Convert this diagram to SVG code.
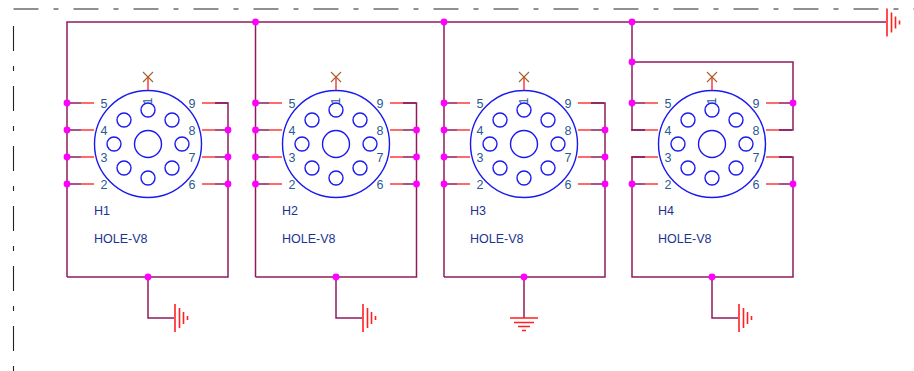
<svg xmlns="http://www.w3.org/2000/svg" xmlns:xlink="http://www.w3.org/1999/xlink" width="914" height="371" viewBox="0 0 914 371">
<style>
text{font-family:"Liberation Sans",Arial,sans-serif;font-size:12.500px;fill:#2a5a94}
.lab{fill:#1c3490;font-size:12.500px}
.w{fill:none;stroke:#8e1b5e;stroke-width:1.500}
.r{fill:none;stroke:#ff3b3b;stroke-width:1.500}
.b{fill:none;stroke:#1a1aee;stroke-width:1.400}
.g{fill:none;stroke:#ff2020;stroke-width:1.600}
.x{fill:none;stroke:#a5602a;stroke-width:1.100}
.d{fill:#ff00ff}
.frame{fill:none;stroke:#222;stroke-width:1.100;stroke-dasharray:25 15 5 15}
</style>
<defs>
<g id="pkg">
<circle class="b" cx="0" cy="0" r="53.5"/>
<circle class="b" cx="0" cy="0" r="13.5"/>
<circle class="b" cx="0" cy="-34" r="7"/>
<circle class="b" cx="24" cy="-24" r="7"/>
<circle class="b" cx="34" cy="0" r="7"/>
<circle class="b" cx="24" cy="24" r="7"/>
<circle class="b" cx="0" cy="34" r="7"/>
<circle class="b" cx="-24" cy="24" r="7"/>
<circle class="b" cx="-34" cy="0" r="7"/>
<circle class="b" cx="-24" cy="-24" r="7"/>
<path class="r" d="M0-54V-67"/>
<path class="x" d="M-5-72L5-62M5-72L-5-62"/>
<path class="r" d="M-67-41H-54M-67-14H-54M-67 13H-54M-67 40H-54M54-41H67M54-14H67M54 13H67M54 40H67"/>
<path class="w" d="M-81-41H-67M-81-14H-67M-81 13H-67M-81 40H-67M67-41H80M67-14H80M67 13H80M67 40H80"/>
<text x="-44" y="-36" text-anchor="middle">5</text>
<text x="-44" y="-9" text-anchor="middle">4</text>
<text x="-44" y="18" text-anchor="middle">3</text>
<text x="-44" y="45" text-anchor="middle">2</text>
<text x="44" y="-36" text-anchor="middle">9</text>
<text x="44" y="-9" text-anchor="middle">8</text>
<text x="44" y="18" text-anchor="middle">7</text>
<text x="44" y="45" text-anchor="middle">6</text>
<text transform="translate(4 -43) rotate(-90)" text-anchor="middle">1</text>
</g>
<g id="gnd"><path class="g" d="M0-14V14M4.500-10V10M8.500-6V6M12.500-2V2"/></g>
</defs>
<g id="frame">
<path class="frame" d="M13.500 9H914"/>
<path class="frame" d="M13.500 26V371"/>
</g>
<g id="connectors">
<path class="w" d="M67 277V22H886"/>
<path class="w" d="M255.500 22V277M444 22V277M632 22V130H645M632 62H793V130H779M632 157H645M632 157V277H793V157H779"/>
<path class="w" d="M67 277H228V103H215M255.500 277H416.500V103H403M444 277H605V103H591"/>
<path class="w" d="M148 277V318H174M336 277V318H362M524 277V318M712 277V318H738"/>
</g>
<g id="H1"><use xlink:href="#pkg" href="#pkg" x="148" y="144"/><text class="lab" x="94" y="215">H1</text><text class="lab" x="94" y="243">HOLE-V8</text></g>
<g id="H2"><use xlink:href="#pkg" href="#pkg" x="336" y="144"/><text class="lab" x="282" y="215">H2</text><text class="lab" x="282" y="243">HOLE-V8</text></g>
<g id="H3"><use xlink:href="#pkg" href="#pkg" x="524" y="144"/><text class="lab" x="470" y="215">H3</text><text class="lab" x="470" y="243">HOLE-V8</text></g>
<g id="H4"><use xlink:href="#pkg" href="#pkg" x="712" y="144"/><text class="lab" x="658" y="215">H4</text><text class="lab" x="658" y="243">HOLE-V8</text></g>
<g id="gnd-top"><use xlink:href="#gnd" href="#gnd" x="887" y="22.500"/></g>
<g id="gnd-1"><use xlink:href="#gnd" href="#gnd" x="175" y="318"/></g>
<g id="gnd-2"><use xlink:href="#gnd" href="#gnd" x="363" y="318"/></g>
<g id="gnd-3"><path class="g" d="M510 318H538M514 322.500H534M518 326.500H530M522 330.500H526"/></g>
<g id="gnd-4"><use xlink:href="#gnd" href="#gnd" x="739" y="318"/></g>
<g id="junctions" class="d">
<circle cx="255.500" cy="22" r="3.400"/><circle cx="444" cy="22" r="3.400"/><circle cx="632" cy="22" r="3.400"/><circle cx="632" cy="62" r="3.400"/>
<circle cx="67" cy="103" r="3.400"/><circle cx="67" cy="130" r="3.400"/><circle cx="67" cy="157" r="3.400"/><circle cx="67" cy="184" r="3.400"/>
<circle cx="228" cy="130" r="3.400"/><circle cx="228" cy="157" r="3.400"/><circle cx="228" cy="184" r="3.400"/>
<circle cx="255.500" cy="103" r="3.400"/><circle cx="255.500" cy="130" r="3.400"/><circle cx="255.500" cy="157" r="3.400"/><circle cx="255.500" cy="184" r="3.400"/>
<circle cx="416.500" cy="130" r="3.400"/><circle cx="416.500" cy="157" r="3.400"/><circle cx="416.500" cy="184" r="3.400"/>
<circle cx="444" cy="103" r="3.400"/><circle cx="444" cy="130" r="3.400"/><circle cx="444" cy="157" r="3.400"/><circle cx="444" cy="184" r="3.400"/>
<circle cx="605" cy="130" r="3.400"/><circle cx="605" cy="157" r="3.400"/><circle cx="605" cy="184" r="3.400"/>
<circle cx="632" cy="103" r="3.400"/><circle cx="632" cy="184" r="3.400"/><circle cx="793" cy="103" r="3.400"/><circle cx="793" cy="184" r="3.400"/>
<circle cx="148" cy="277" r="3.400"/><circle cx="336" cy="277" r="3.400"/><circle cx="524" cy="277" r="3.400"/><circle cx="712" cy="277" r="3.400"/>
</g>
</svg>
